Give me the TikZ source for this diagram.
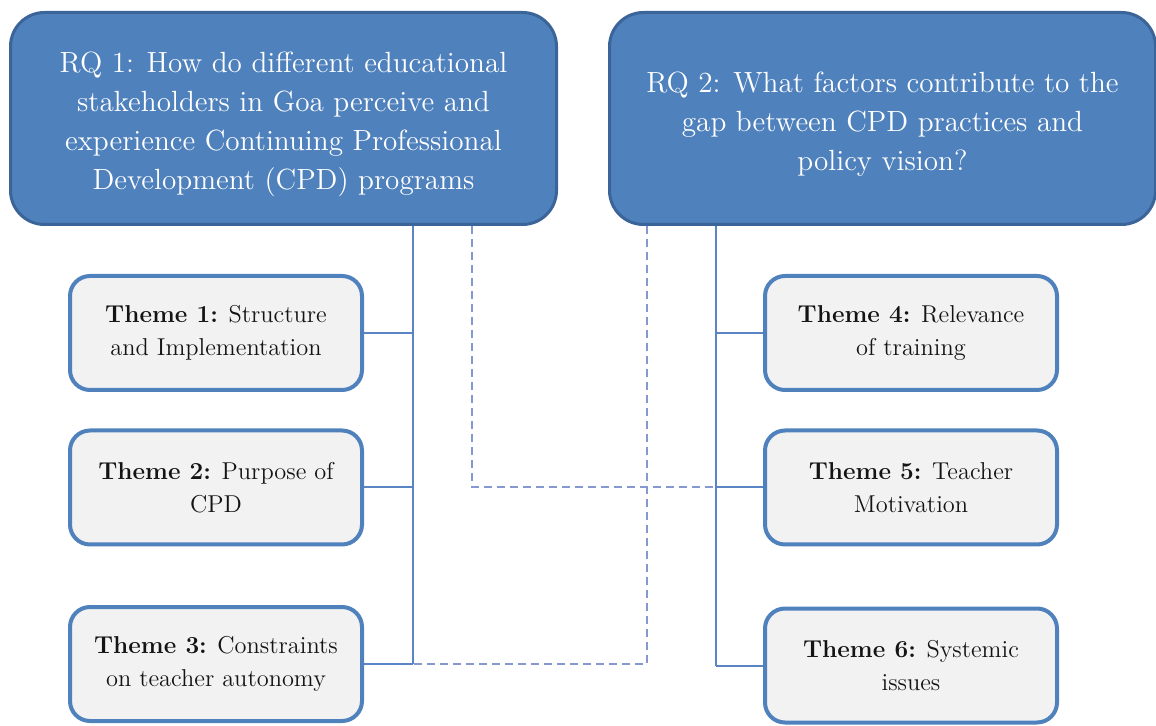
\documentclass[tikz,border=0pt]{standalone}
\usepackage{xcolor}
\usetikzlibrary{positioning, calc}
\definecolor{rqblue}{HTML}{4F81BD}
\definecolor{rqedge}{HTML}{3B6499}
\definecolor{themefill}{HTML}{F2F2F2}
\definecolor{linkblue}{HTML}{5B84C4}
\definecolor{dashblue}{HTML}{8598D0}
\newcommand{\toppad}{\rule{0pt}{16pt}}

\begin{document}
\begin{tikzpicture}[
  x=0.5pt, y=-0.5pt,
  rqbox/.style={rectangle, draw=rqedge, line width=1.5pt, fill=rqblue, rounded corners=17pt,
                minimum width=273pt, minimum height=106pt, inner sep=0pt,
                font=\fontsize{14.6pt}{19.5pt}\selectfont, text=white, align=center},
  theme/.style={rectangle, draw=rqblue, line width=2pt, fill=themefill, rounded corners=10pt,
                minimum width=146pt, minimum height=57pt, inner sep=0pt,
                font=\fontsize{12.2pt}{16.5pt}\selectfont, text=black!92, align=center},
  link/.style={draw=linkblue, line width=1pt},
  dashlink/.style={draw=dashblue, line width=1pt, dash pattern=on 4pt off 2.5pt}
]
  \useasboundingbox (0,0) rectangle (1156,726);

  % Research questions
  \node[rqbox] (rq1) at (283.5,118.5)
    {\toppad RQ 1: How do different educational\\stakeholders in Goa perceive and\\experience Continuing Professional\\Development (CPD) programs};
  \node[rqbox] (rq2) at (882.5,118.5)
    {\toppad RQ 2: What factors contribute to the\\gap between CPD practices and\\policy vision?};

  % Themes under RQ 1
  \node[theme] (t1) at (216,333) {\textbf{Theme 1:} Structure\\and Implementation};
  \node[theme] (t2) at (216,487.5) {\textbf{Theme 2:} Purpose of\\CPD};
  \node[theme] (t3) at (216,664) {\textbf{Theme 3:} Constraints\\on teacher autonomy};

  % Themes under RQ 2
  \node[theme] (t4) at (911,333) {\textbf{Theme 4:} Relevance\\of training};
  \node[theme] (t5) at (911,487.5) {\textbf{Theme 5:} Teacher\\Motivation};
  \node[theme] (t6) at (911,665.5) {\textbf{Theme 6:} Systemic\\issues};

  % Cross links (dashed)
  \coordinate (xa) at (472,0);
  \coordinate (xb) at (647,0);
  \draw[dashlink] (rq1.south -| xa) |- (t5.west);
  \draw[dashlink] (rq2.south -| xb) |- (t3.east);

  % Trunks and branches
  \coordinate (lt) at (413,0);
  \coordinate (rt) at (716,0);
  \draw[link] (rq1.south -| lt) -- (t3.east -| lt);
  \draw[link] (rq2.south -| rt) -- (t6.west -| rt);
  \foreach \t in {t1, t2, t3}
    \draw[link] (\t.east) -- (\t.east -| lt);
  \foreach \t in {t4, t5, t6}
    \draw[link] (\t.west) -- (\t.west -| rt);
\end{tikzpicture}
\end{document}
